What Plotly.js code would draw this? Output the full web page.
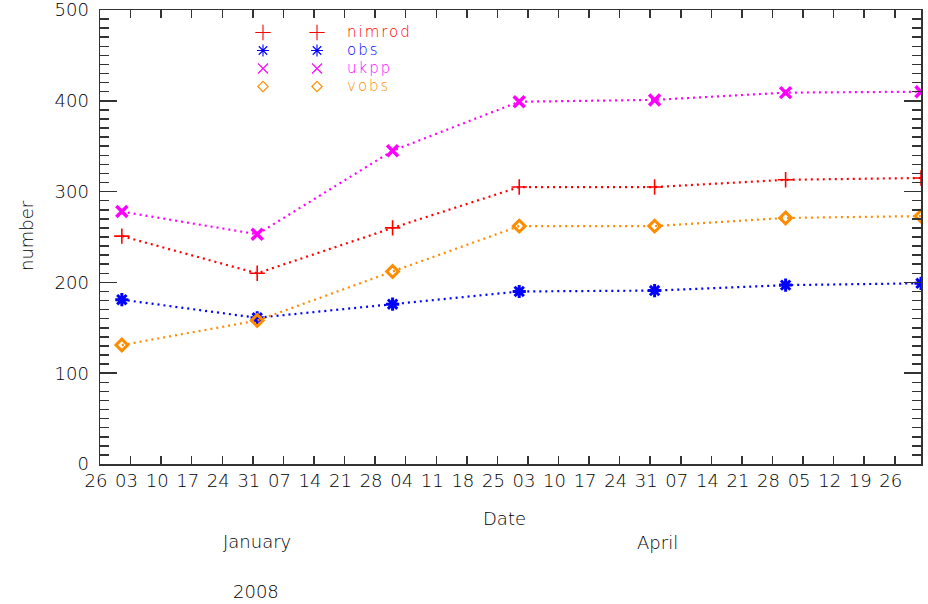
<!DOCTYPE html>
<html>
<head>
<meta charset="utf-8">
<script src="https://cdn.plot.ly/plotly-3.0.1.min.js"></script>
<style>
  html, body { margin: 0; padding: 0; background: #ffffff; }
  #chart { width: 928px; height: 604px; }
</style>
</head>
<body>
<div id="chart"></div>
<script>
// Monthly counts per source, first of each month
const dates  = ['2007-12-01', '2008-01-01', '2008-02-01', '2008-03-01', '2008-04-01', '2008-05-01', '2008-06-01'];
const nimrod = [251, 210, 260, 305, 305, 313, 315];
const obs    = [181, 161, 176, 190, 191, 197, 199];
const ukpp   = [278, 253, 345, 399, 401, 409, 410];
const vobs   = [131, 158, 212, 262, 262, 271, 273];

// Weekly date ticks (Mondays) and their day-of-month labels
const tickDates = ['2007-11-26', '2007-12-03', '2007-12-10', '2007-12-17', '2007-12-24', '2007-12-31',
                   '2008-01-07', '2008-01-14', '2008-01-21', '2008-01-28', '2008-02-04', '2008-02-11',
                   '2008-02-18', '2008-02-25', '2008-03-03', '2008-03-10', '2008-03-17', '2008-03-24',
                   '2008-03-31', '2008-04-07', '2008-04-14', '2008-04-21', '2008-04-28', '2008-05-05',
                   '2008-05-12', '2008-05-19', '2008-05-26'];
const tickLabels = ['26', '03', '10', '17', '24', '31', '07', '14', '21', '28', '04', '11', '18', '25',
                    '03', '10', '17', '24', '31', '07', '14', '21', '28', '05', '12', '19', '26'];
const yTicks = [0, 100, 200, 300, 400, 500];

const names  = ['nimrod', 'obs', 'ukpp', 'vobs'];
const series = [nimrod, obs, ukpp, vobs];
const colors = ['#ff0000', '#0000ff', '#ff00ff', '#ff8c00'];
const symbols = ['cross-thin', 'asterisk', 'x-thin', 'diamond-open'];
const markSize = [11, 11, 11, 9];
const markWidth = [1.6, 3, 3.5, 3];

const FONT = 'DejaVu Sans, Verdana, sans-serif';
const TXT = '#000000';
const AXC = '#333333';
const W = 200;

const traces = series.map((vals, i) => ({
  type: 'scatter',
  mode: 'lines+markers',
  x: dates,
  y: vals,
  name: names[i],
  showlegend: false,
  line: { color: colors[i], width: 2.2, dash: '2px,4px' },
  marker: { symbol: symbols[i], size: markSize[i], color: colors[i],
            line: { color: colors[i], width: markWidth[i] } }
}));

// Key in the upper left: two symbols and a coloured label per series,
// laid out on an overlay axis measured in pixels
const keyRowsY = [32.5, 50.5, 68.5, 86.5];
const keyX = [263, 317];
const keySize = [11, 10, 10, 8];
series.forEach((_, i) => {
  traces.push({
    type: 'scatter', mode: 'markers',
    x: keyX, y: [keyRowsY[i], keyRowsY[i]],
    xaxis: 'x2', yaxis: 'y2', showlegend: false, hoverinfo: 'skip',
    marker: { symbol: symbols[i], size: keySize[i], color: colors[i],
              line: { color: colors[i], width: 1.1 } }
  });
});

const annotations = names.map((n, i) => ({
  text: '<span style="letter-spacing:2px">' + n + '</span>',
  xref: 'x2', yref: 'y2', x: 346, y: keyRowsY[i] - 1,
  xanchor: 'left', yanchor: 'middle', showarrow: false, borderpad: 0,
  font: { family: FONT, size: 15, weight: W, color: colors[i] }
}));

const bottomText = [
  { text: 'Date', x: 504, y: 518 },
  { text: 'January', x: 257, y: 541 },
  { text: 'April', x: 657, y: 542 },
  { text: '2008', x: 256, y: 591 }
];
bottomText.forEach(t => annotations.push({
  text: t.text, xref: 'paper', yref: 'paper',
  x: (t.x - 100) / 821, y: (464 - t.y) / 454,
  xanchor: 'center', yanchor: 'middle', showarrow: false,
  font: { family: FONT, size: 18, weight: W, color: TXT }
}));
annotations.push({
  text: 'number', xref: 'paper', yref: 'paper',
  x: (26 - 100) / 821, y: (464 - 236) / 454, textangle: -90,
  xanchor: 'center', yanchor: 'middle', showarrow: false,
  font: { family: FONT, size: 18, weight: W, color: TXT }
});

const layout = {
  width: 928, height: 604,
  margin: { l: 100, r: 7, t: 10, b: 140 },
  paper_bgcolor: '#ffffff', plot_bgcolor: '#ffffff',
  showlegend: false,
  font: { family: FONT, size: 18, weight: W, color: TXT },
  xaxis: {
    type: 'date', range: ['2007-11-26', '2008-06-01'],
    tickmode: 'array', tickvals: tickDates, ticktext: tickLabels,
    ticks: 'inside', ticklen: 8, tickwidth: 1.5, tickcolor: AXC,
    showline: true, linecolor: AXC, linewidth: 1.5, mirror: 'ticks',
    showgrid: false, zeroline: false,
    tickfont: { family: FONT, size: 18, weight: W, color: TXT },
    ticklabelshift: -4, ticklabelstandoff: 0
  },
  yaxis: {
    range: [0, 500],
    tickmode: 'array', tickvals: yTicks,
    ticks: 'inside', ticklen: 17, tickwidth: 1.5, tickcolor: AXC,
    minor: { dtick: 10, ticks: 'inside', ticklen: 9, tickwidth: 1.5, tickcolor: AXC, showgrid: false },
    showline: true, linecolor: AXC, linewidth: 1.5, mirror: 'ticks',
    showgrid: false, zeroline: false,
    tickfont: { family: FONT, size: 18, weight: W, color: TXT },
    ticklabelstandoff: 6, ticklabeloverflow: 'allow'
  },
  xaxis2: { overlaying: 'x', range: [100, 921], visible: false, fixedrange: true },
  yaxis2: { overlaying: 'y', range: [464, 10], visible: false, fixedrange: true },
  annotations: annotations
};

Plotly.newPlot('chart', traces, layout, { displayModeBar: false, staticPlot: true });
</script>
</body>
</html>
